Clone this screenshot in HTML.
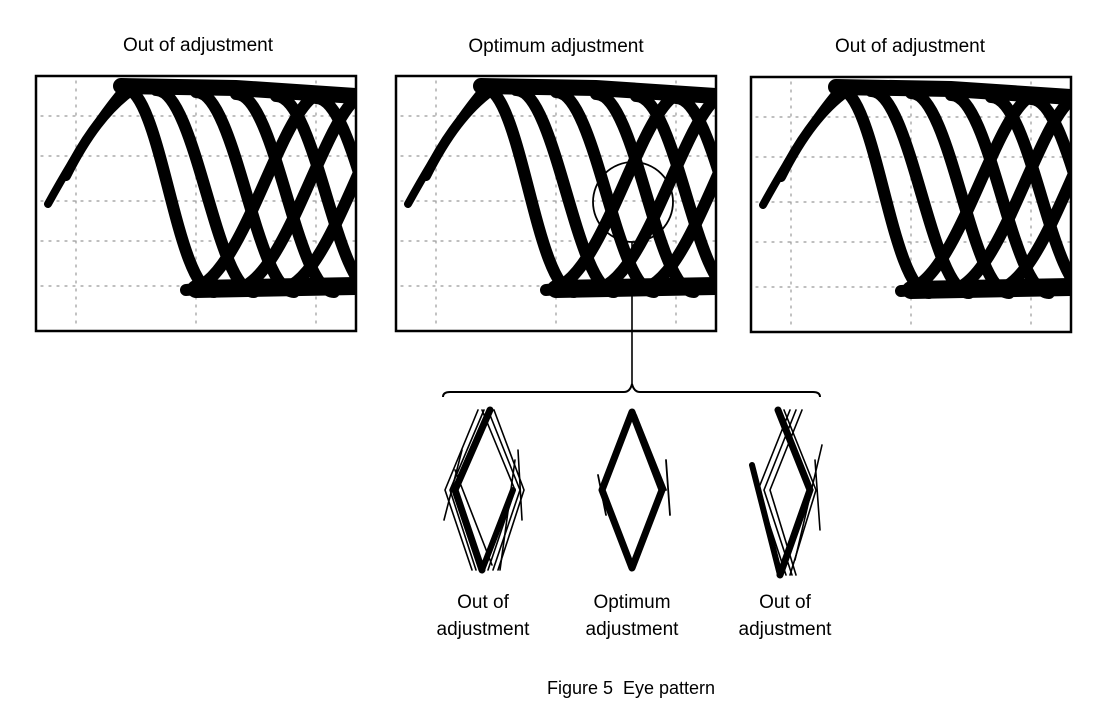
<!DOCTYPE html>
<html><head><meta charset="utf-8"><style>
body{margin:0;background:#fff;}
svg{display:block;font-family:"Liberation Sans",Arial,sans-serif;}
</style></head><body>
<svg width="1097" height="720" viewBox="0 0 1097 720" xmlns="http://www.w3.org/2000/svg">
<defs>
<clipPath id="cp"><rect x="0" y="0" width="320" height="255"/></clipPath>
<g id="eye">
<g clip-path="url(#cp)" fill="none" stroke="#000" stroke-linecap="round">
<g stroke="#999" stroke-width="1.2" stroke-dasharray="2 6">
<line x1="5" y1="40" x2="320" y2="40"/><line x1="5" y1="80" x2="320" y2="80"/>
<line x1="5" y1="125" x2="320" y2="125"/><line x1="5" y1="165" x2="320" y2="165"/>
<line x1="5" y1="210" x2="320" y2="210"/>
<line x1="40" y1="5" x2="40" y2="250"/><line x1="160" y1="5" x2="160" y2="250"/><line x1="280" y1="5" x2="280" y2="250"/>
</g>
<path d="M12,128 Q55,50 90,10" stroke-width="8"/>
<path d="M30,100 Q60,40 95,15" stroke-width="10"/>
<path d="M85,10 L200,12 L320,20" stroke-width="16"/>
<path d="M160,213 L320,210" stroke-width="18"/>
<g stroke-width="12">
<path d="M88,12 C125,12 140,215 178,216"/>
<path d="M120,14 C160,14 180,215 218,216"/>
<path d="M160,16 C200,16 220,215 258,216"/>
<path d="M200,18 C240,18 260,215 298,216"/>
<path d="M240,20 C280,20 300,215 338,216"/>
<path d="M280,22 C320,22 340,215 378,216"/>
<path d="M150,214 C190,214 220,120 250,60 S290,20 310,20"/>
<path d="M195,214 C235,214 265,120 295,60 S335,20 355,20"/>
<path d="M240,214 C280,214 310,120 340,60"/>
</g>
</g>
<rect x="0" y="0" width="320" height="255" fill="none" stroke="#000" stroke-width="2.5"/>
</g>
</defs>

<g font-size="19" text-anchor="middle" fill="#000">
<text x="198" y="51">Out of adjustment</text>
<text x="556" y="52">Optimum adjustment</text>
<text x="910" y="52">Out of adjustment</text>
</g>

<use href="#eye" x="36" y="76"/>
<use href="#eye" x="396" y="76"/>
<use href="#eye" x="751" y="77"/>

<circle cx="633" cy="202" r="40" fill="none" stroke="#000" stroke-width="1.8"/>
<line x1="632" y1="242" x2="632" y2="385" stroke="#000" stroke-width="1.6"/>
<path d="M443,397 Q443,392 450,392 L624,392 Q630,392 632,384 Q634,392 640,392 L813,392 Q820,392 820,397" fill="none" stroke="#000" stroke-width="2"/>

<g fill="none" stroke="#000" stroke-linecap="round">
<path d="M490,410 L455,490 L482,570" stroke-width="7"/>
<path d="M482,570 L513,490" stroke-width="6"/>
<g stroke-width="1.6">
<path d="M478,410 L445,490 L472,570"/><path d="M484,410 L450,490 L476,570"/>
<path d="M482,410 L515,490 L488,570"/><path d="M488,410 L520,490 L493,570"/><path d="M494,410 L524,490 L498,570"/>
<path d="M462,450 L444,520"/><path d="M518,450 L522,520"/><path d="M455,470 L492,565"/><path d="M515,460 L500,570"/>
</g>
<path d="M632,412 L602,490 L632,568 L662,490 Z" stroke-width="7" stroke-linejoin="round"/>
<g stroke-width="1.8"><path d="M598,475 L606,515"/><path d="M666,460 L670,515"/><path d="M636,415 L666,490"/></g>
<path d="M778,410 L810,490 L780,575" stroke-width="7"/>
<path d="M752,465 L780,575" stroke-width="6"/>
<g stroke-width="1.6">
<path d="M790,410 L758,490 L786,575"/><path d="M796,410 L764,490 L792,575"/><path d="M802,410 L770,490 L796,575"/>
<path d="M784,410 L816,490 L790,575"/><path d="M822,445 L795,560"/><path d="M815,460 L820,530"/>
</g>
</g>

<g font-size="19" text-anchor="middle" fill="#000">
<text x="483" y="608">Out of</text><text x="483" y="635">adjustment</text>
<text x="632" y="608">Optimum</text><text x="632" y="635">adjustment</text>
<text x="785" y="608">Out of</text><text x="785" y="635">adjustment</text>
<text x="631" y="694" font-size="18">Figure 5&#160; Eye pattern</text>
</g>
</svg>
</body></html>
